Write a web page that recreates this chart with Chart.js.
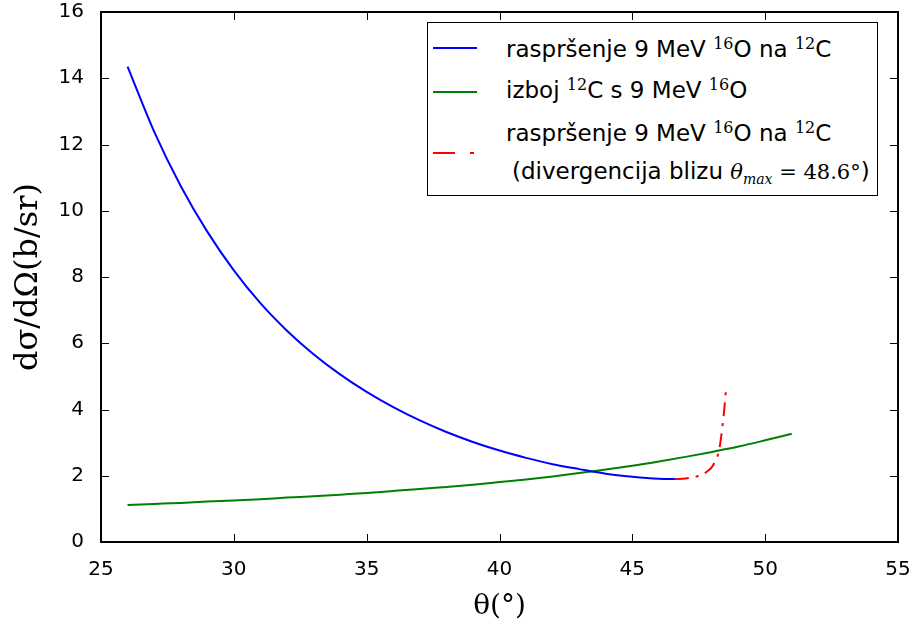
<!DOCTYPE html>
<html>
<head>
<meta charset="utf-8">
<script src="https://cdn.jsdelivr.net/npm/chart.js@4.4.0/dist/chart.umd.min.js"></script>
<style>
  body { margin: 0; background: #fff; }
  #wrap { position: relative; width: 914px; height: 632px; }
  #legend {
    position: absolute; left: 427px; top: 22px; width: 449px; height: 172px;
    border: 1.5px solid #000; background: #fff;
    font-family: "DejaVu Sans", sans-serif; font-size: 23px; color: #000;
  }
  .txt { position: absolute; left: 78px; white-space: nowrap; line-height: 28px; }
  .sw { position: absolute; left: 5px; width: 44px; height: 0; border-top: 2px solid; }
  sup { font-family: "DejaVu Serif", serif; font-size: 16px; vertical-align: 0; position: relative; top: -8px; }
  .m { font-family: "DejaVu Serif", serif; font-size: 21px; }
</style>
</head>
<body>
<div id="wrap">
  <canvas id="c" width="914" height="632"></canvas>
  <div id="legend">
    <div class="sw" style="top:24px;border-color:#0000ff"></div>
    <div class="txt" style="top:12px">raspršenje 9 MeV <sup>16</sup>O na <sup>12</sup>C</div>
    <div class="sw" style="top:68px;border-color:#008000"></div>
    <div class="txt" style="top:53px">izboj <sup>12</sup>C s 9 MeV <sup>16</sup>O</div>
    <div class="sw" style="top:129px;width:22px;border-color:#ff0000"></div>
    <div class="sw" style="top:129px;left:42px;width:4px;border-color:#ff0000"></div>
    <div class="txt" style="top:96px">raspršenje 9 MeV <sup>16</sup>O na <sup>12</sup>C</div>
    <div class="txt" style="top:134px;left:84px">(divergencija blizu <span class="m"><i>θ</i><i style="font-size:14px;position:relative;top:5px">max</i> = 48.6°</span>)</div>
  </div>
</div>
<script>
// kut u stupnjevima i diferencijalni presjek (b/sr), ocitano sa slike
const thetaScatter = [26, 27, 28, 29, 30, 31, 32, 33, 34, 35, 36, 37, 38, 39, 40, 41, 42, 43, 44, 45, 46, 46.6];
const sigmaScatter = [14.35, 12.39, 10.75, 9.37, 8.2, 7.21, 6.38, 5.67, 5.06, 4.53, 4.07, 3.67, 3.32, 3.02, 2.76, 2.54, 2.35, 2.2, 2.06, 1.97, 1.91, 1.9];

const thetaRecoil = [26, 27, 28, 29, 30, 31, 32, 33, 34, 35, 36, 37, 38, 39, 40, 41, 42, 43, 44, 45, 46, 47, 48, 49, 50, 51];
const sigmaRecoil = [1.12, 1.15, 1.18, 1.22, 1.25, 1.29, 1.34, 1.38, 1.43, 1.48, 1.54, 1.6, 1.66, 1.73, 1.81, 1.89, 1.98, 2.08, 2.19, 2.3, 2.43, 2.57, 2.72, 2.88, 3.07, 3.27];

const thetaDiverg = [46.6, 47.0, 47.3, 47.6, 47.8, 48.0, 48.15, 48.26, 48.33, 48.4, 48.46, 48.52];
const sigmaDiverg = [1.9, 1.92, 1.96, 2.02, 2.12, 2.27, 2.5, 2.74, 3.1, 3.55, 4.0, 4.55];

const xTicks = [25, 30, 35, 40, 45, 50, 55];
const yTicks = [0, 2, 4, 6, 8, 10, 12, 14, 16];

const pts = (xs, ys) => xs.map((x, i) => ({ x: x, y: ys[i] }));

// okvir i unutarnje crtice na sve cetiri strane
const frameTicks = {
    id: 'frameTicks',
    afterDatasetsDraw(chart) {
        const { ctx, chartArea: a, scales: { x, y } } = chart;
        const len = 8;
        ctx.save();
        ctx.strokeStyle = '#000';
        ctx.lineWidth = 1;
        ctx.beginPath();
        x.ticks.forEach(t => {
            const p = Math.round(x.getPixelForValue(t.value)) + 0.5;
            ctx.moveTo(p, a.bottom); ctx.lineTo(p, a.bottom - len);
            ctx.moveTo(p, a.top); ctx.lineTo(p, a.top + len);
        });
        y.ticks.forEach(t => {
            const p = Math.round(y.getPixelForValue(t.value)) + 0.5;
            ctx.moveTo(a.left, p); ctx.lineTo(a.left + len, p);
            ctx.moveTo(a.right, p); ctx.lineTo(a.right - len, p);
        });
        ctx.stroke();
        ctx.lineWidth = 2;
        ctx.strokeRect(a.left, a.top, a.right - a.left, a.bottom - a.top);
        ctx.restore();
    }
};

const tickFont = { family: 'DejaVu Sans', size: 20 };

new Chart(document.getElementById('c').getContext('2d'), {
    type: 'line',
    data: {
        datasets: [
            {
                label: 'raspršenje 9 MeV 16O na 12C',
                data: pts(thetaScatter, sigmaScatter),
                borderColor: '#0000ff', borderWidth: 2
            },
            {
                label: 'izboj 12C s 9 MeV 16O',
                data: pts(thetaRecoil, sigmaRecoil),
                borderColor: '#008000', borderWidth: 2
            },
            {
                label: 'raspršenje 9 MeV 16O na 12C (divergencija blizu θmax = 48.6°)',
                data: pts(thetaDiverg, sigmaDiverg),
                borderColor: '#ff0000', borderWidth: 2,
                borderDash: [14, 7, 3, 7]
            }
        ]
    },
    options: {
        responsive: false,
        animation: false,
        layout: { padding: { left: 0, right: 16, top: 12, bottom: 0 } },
        elements: {
            point: { radius: 0 },
            line: { cubicInterpolationMode: 'monotone', fill: false }
        },
        plugins: {
            legend: { display: false },
            tooltip: { enabled: false }
        },
        scales: {
            x: {
                type: 'linear', min: 25, max: 55,
                afterBuildTicks: s => { s.ticks = xTicks.map(v => ({ value: v })); },
                afterFit: s => { s.height = 90; s.paddingLeft = 0; s.paddingRight = 0; },
                grid: { display: false },
                border: { display: false },
                ticks: { font: tickFont, color: '#000', padding: 8, maxRotation: 0 },
                title: {
                    display: true, text: 'θ(°)', color: '#000',
                    font: { family: 'DejaVu Serif', size: 28 },
                    padding: { top: 0, bottom: 8 }
                }
            },
            y: {
                type: 'linear', min: 0, max: 16,
                afterBuildTicks: s => { s.ticks = yTicks.map(v => ({ value: v })); },
                afterFit: s => { s.width = 101; s.paddingTop = 0; s.paddingBottom = 0; },
                grid: { display: false },
                border: { display: false },
                ticks: { font: tickFont, color: '#000', padding: 9 },
                title: {
                    display: true, text: 'dσ/dΩ(b/sr)', color: '#000',
                    font: { family: 'DejaVu Serif', size: 32 },
                    padding: { top: 9, bottom: 0 }
                }
            }
        }
    },
    plugins: [frameTicks]
});
</script>
</body>
</html>
